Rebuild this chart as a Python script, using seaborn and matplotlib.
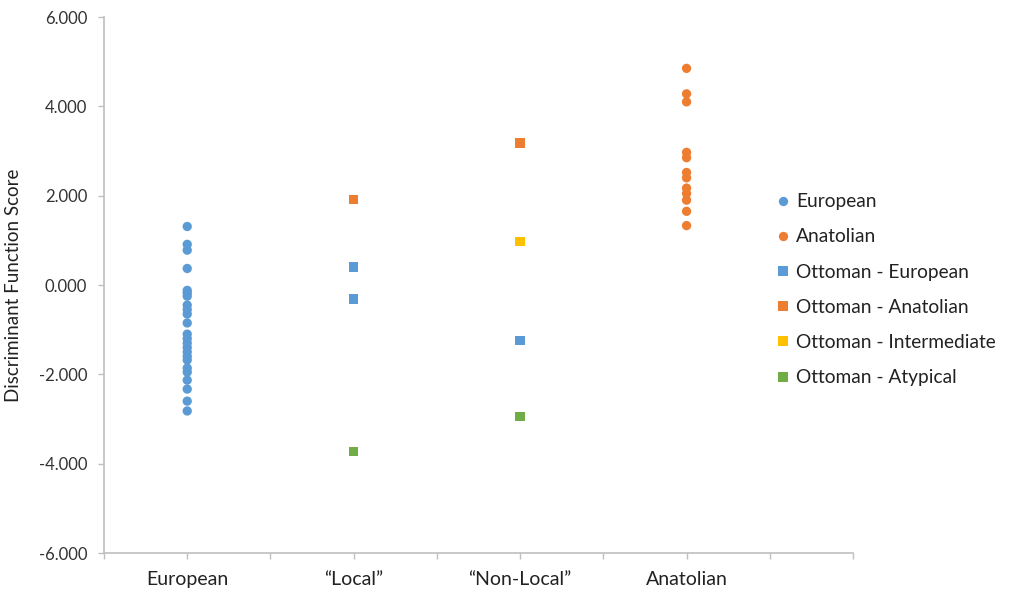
import numpy as np
import pandas as pd
import matplotlib
matplotlib.use("Agg")
import matplotlib.pyplot as plt
import seaborn as sns

categories = ["European", "\u201cLocal\u201d", "\u201cNon-Local\u201d", "Anatolian"]

european = [1.31, 0.91, 0.78, 0.37, -0.12, -0.18, -0.25, -0.45, -0.55, -0.65,
            -0.85, -1.10, -1.20, -1.30, -1.40, -1.50, -1.60, -1.68, -1.86, -1.95,
            -2.13, -2.33, -2.60, -2.82]
anatolian = [4.85, 4.28, 4.10, 2.97, 2.85, 2.52, 2.40, 2.17, 2.05, 1.90, 1.65, 1.33]

local_ott_eur = [0.40, -0.31]
local_ott_ana = [1.92]
local_ott_aty = [-3.73]
nonlocal_ott_eur = [-1.25]
nonlocal_ott_ana = [3.18]
nonlocal_ott_int = [0.97]
nonlocal_ott_aty = [-2.94]

series_names = ["European", "Anatolian", "Ottoman - European", "Ottoman - Anatolian",
                "Ottoman - Intermediate", "Ottoman - Atypical"]
colors = ["#5B9BD5", "#ED7D31", "#5B9BD5", "#ED7D31", "#FFC000", "#70AD47"]
markers = ["o", "o", "s", "s", "s", "s"]

rows = []
def add(cat_idx, series, vals):
    for v in vals:
        rows.append({"x": cat_idx + 1, "y": v, "series": series})

add(0, "European", european)
add(3, "Anatolian", anatolian)
add(1, "Ottoman - European", local_ott_eur)
add(1, "Ottoman - Anatolian", local_ott_ana)
add(1, "Ottoman - Atypical", local_ott_aty)
add(2, "Ottoman - European", nonlocal_ott_eur)
add(2, "Ottoman - Anatolian", nonlocal_ott_ana)
add(2, "Ottoman - Intermediate", nonlocal_ott_int)
add(2, "Ottoman - Atypical", nonlocal_ott_aty)
df = pd.DataFrame(rows)

sns.set_theme(style="white")
plt.rcParams['font.family'] = ['Lato', 'DejaVu Sans']

fig = plt.figure(figsize=(10.1, 5.92), dpi=100)
ax = fig.add_axes([104/1010, 39/592, (853-104)/1010, (553-17)/592])

sns.scatterplot(data=df, x="x", y="y", hue="series", style="series",
                hue_order=series_names, style_order=series_names,
                palette=dict(zip(series_names, colors)),
                markers=dict(zip(series_names, markers)),
                s=45, linewidth=0, ax=ax, legend=True)

ax.set_xlim(0.5, 5.0)
ax.set_ylim(-6, 6)
ax.set_yticks(np.arange(-6, 6.1, 2))
ax.set_yticklabels([f"{v:.3f}" for v in np.arange(-6, 6.1, 2)], fontsize=12, color="#333333")
xt = np.arange(0.5, 5.01, 0.5)
ax.set_xticks(xt)
ax.set_xticklabels([categories[int(t) - 1] if float(t).is_integer() and 1 <= t <= 4 else "" for t in xt],
                   fontsize=14, color="#222222")
ax.set_xlabel("")
ax.set_ylabel("Discriminant Function Score", fontsize=13.5, color="#222222", labelpad=12)

for side in ["top", "right"]:
    ax.spines[side].set_visible(False)
for side in ["left", "bottom"]:
    ax.spines[side].set_color("#BFBFBF")
    ax.spines[side].set_linewidth(1.2)
ax.tick_params(axis="y", which="both", length=4, width=1, color="#BFBFBF", left=True, pad=8)
ax.tick_params(axis="x", which="both", length=4, width=1, color="#BFBFBF", bottom=True, pad=9)

handles, labels = ax.get_legend_handles_labels()
ax.legend_.remove()
leg = fig.legend(handles, labels, loc="upper left", bbox_to_anchor=(754/1010, 1 - 176/592),
                 frameon=False, fontsize=13.8, labelspacing=0.95, handletextpad=0.1,
                 handlelength=1.2, markerscale=1.0)
for t in leg.get_texts():
    t.set_color("#222222")

fig.savefig("out.png", dpi=100, facecolor="white")
